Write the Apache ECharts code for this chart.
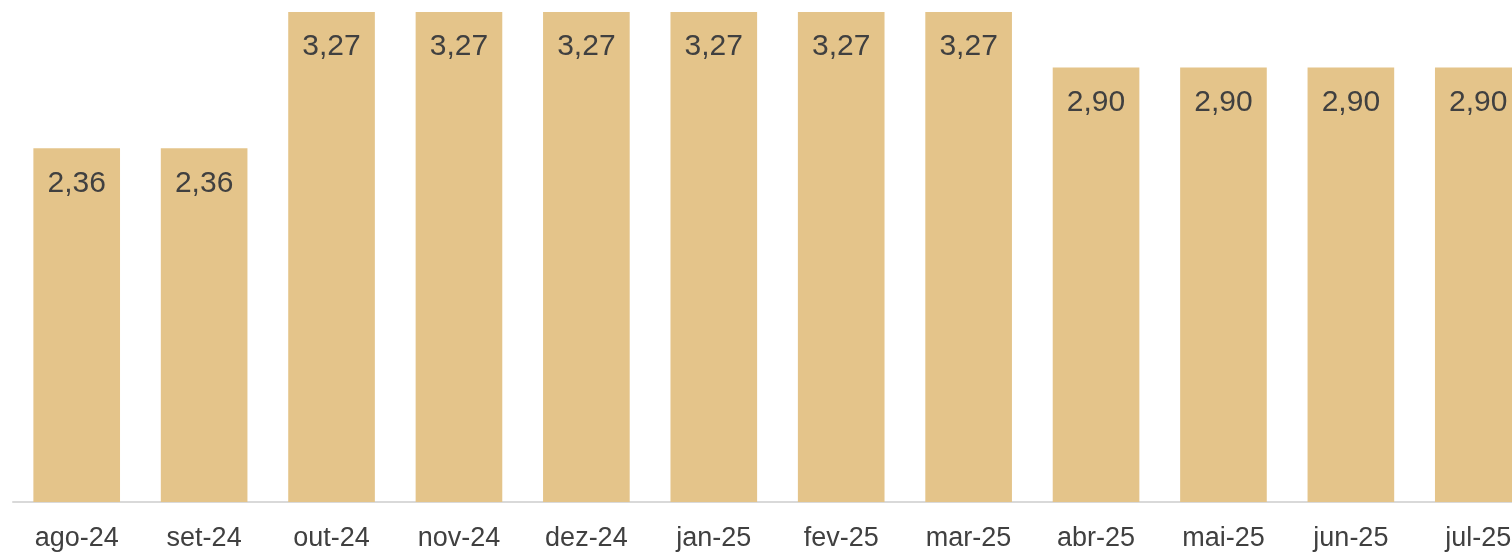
<!DOCTYPE html>
<html>
<head>
<meta charset="utf-8">
<script src="https://cdn.jsdelivr.net/npm/echarts@6/dist/echarts.min.js"></script>
<style>html,body{margin:0;padding:0;background:#fff;overflow:hidden;width:1512px;height:552px;}#c{width:1542px;height:552px;}</style>
</head>
<body>
<div id="c"></div>
<script>
const categories = ['ago-24','set-24','out-24','nov-24','dez-24','jan-25','fev-25','mar-25','abr-25','mai-25','jun-25','jul-25'];
const values = [2.36, 2.36, 3.27, 3.27, 3.27, 3.27, 3.27, 3.27, 2.90, 2.90, 2.90, 2.90];

const chart = echarts.init(document.getElementById('c'));
chart.setOption({
  animation: false,
  grid: { left: 13, right: 0, top: 12, bottom: 50, containLabel: false },
  xAxis: {
    type: 'category',
    data: categories,
    axisLine: { show: true, lineStyle: { color: '#d9d9d9', width: 2 } },
    axisTick: { show: false },
    axisLabel: { color: '#404040', fontSize: 27, fontFamily: 'Liberation Sans, Arial, sans-serif', margin: 23, interval: 0 }
  },
  yAxis: { type: 'value', min: 0, max: 3.27, show: false, splitLine: { show: false } },
  series: [{
    type: 'bar',
    data: values,
    barWidth: '68%',
    itemStyle: { color: '#e4c48a' },
    label: {
      show: true,
      position: 'insideTop',
      distance: 20,
      color: '#404040',
      fontSize: 30,
      fontFamily: 'Liberation Sans, Arial, sans-serif',
      formatter: p => p.value.toFixed(2).replace('.', ',')
    }
  }]
});
</script>
</body>
</html>
